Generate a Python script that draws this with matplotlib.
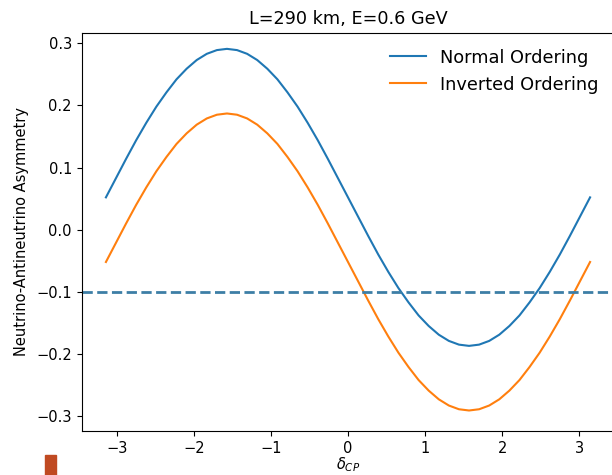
import numpy as np
import matplotlib
matplotlib.use("Agg")
import matplotlib.pyplot as plt
from matplotlib.patches import Rectangle

## Data (delta_CP in steps of pi/24)
delta = np.linspace(-np.pi, np.pi, 49)
normal = [0.052, 0.083, 0.114, 0.144, 0.172, 0.198, 0.221, 0.242, 0.259,
          0.273, 0.283, 0.289, 0.291, 0.289, 0.283, 0.273, 0.259, 0.242,
          0.221, 0.198, 0.172, 0.144, 0.114, 0.083, 0.052,
          0.021, -0.010, -0.040, -0.068, -0.094, -0.117, -0.138, -0.155,
          -0.169, -0.179, -0.185, -0.187, -0.185, -0.179, -0.169, -0.155,
          -0.138, -0.117, -0.094, -0.068, -0.040, -0.010, 0.021, 0.052]
inverted = [-0.052, -0.021, 0.010, 0.040, 0.068, 0.094, 0.117, 0.138, 0.155,
            0.169, 0.179, 0.185, 0.187, 0.185, 0.179, 0.169, 0.155, 0.138,
            0.117, 0.094, 0.068, 0.040, 0.010, -0.021, -0.052,
            -0.083, -0.114, -0.144, -0.172, -0.198, -0.221, -0.242, -0.259,
            -0.273, -0.283, -0.289, -0.291, -0.289, -0.283, -0.273, -0.259,
            -0.242, -0.221, -0.198, -0.172, -0.144, -0.114, -0.083, -0.052]
ref_level = -0.1
labels = ["Normal Ordering", "Inverted Ordering"]

plt.rcParams["font.size"] = 10.5

## Figure
fig = plt.figure(figsize=(6.12, 4.75), dpi=100)
ax = fig.add_axes([81.7 / 612, 1 - 431 / 475, 532.6 / 612, (431 - 32.7) / 475])

ax.plot(delta, normal, color="C0", lw=1.5, label=labels[0])
ax.plot(delta, inverted, color="C1", lw=1.5, label=labels[1])
ax.axhline(ref_level, color="#3d7ea6", lw=2, ls="--")

ax.set_xlim(-3.456, 3.456)
ax.set_ylim(-0.324, 0.317)
ax.set_title("L=290 km, E=0.6 GeV", fontsize=12.7)
ax.set_xlabel(r"$\delta_{CP}$", labelpad=0)
ax.set_ylabel("Neutrino-Antineutrino Asymmetry", labelpad=5)
ax.legend(loc="upper right", frameon=False, fontsize=12.8)

# small leftover mark in the bottom-left corner of the reference
fig.patches.append(Rectangle((45 / 612, 0), 11 / 612, 20 / 475,
                             transform=fig.transFigure, color="#c04a22"))

fig.savefig("out.png", dpi=100)
